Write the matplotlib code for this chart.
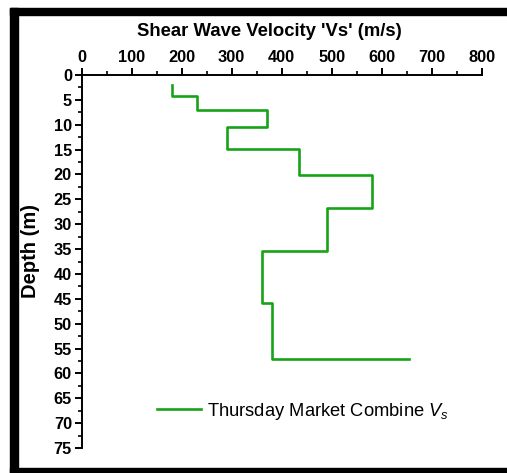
import matplotlib
matplotlib.use("Agg")
import matplotlib.pyplot as plt
from matplotlib.patches import Rectangle
from matplotlib.ticker import MultipleLocator
import numpy as np

plt.rcParams['font.family'] = ['Liberation Sans', 'DejaVu Sans']
plt.rcParams['mathtext.fontset'] = 'custom'
plt.rcParams['mathtext.it'] = 'Liberation Sans:italic'
plt.rcParams['mathtext.rm'] = 'Liberation Sans'

# layer boundaries (m) and shear wave velocity of each step (m/s)
depths = [2.0, 4.2, 7.0, 10.4, 14.8, 20.1, 26.8, 35.3, 45.9, 57.2]
velocities = [180, 230, 370, 290, 435, 580, 490, 360, 380, 655]

x_ticks = [0, 100, 200, 300, 400, 500, 600, 700, 800]
y_ticks = list(range(0, 80, 5))

# build the staircase: vertical run in each layer, then a horizontal jump
vs = np.repeat(velocities, 2)[:-1]
ds = np.concatenate([[depths[0]], np.repeat(depths[1:], 2)])

W, H = 507, 473
fig = plt.figure(figsize=(W / 100, H / 100), dpi=100)
ax = fig.add_axes([81.7 / W, 1 - 448 / H, 400 / W, 373 / H])

ax.plot(vs, ds, color='#17a317', linewidth=1.9,
        label=r'Thursday Market Combine $V_s$')

ax.set_xlim(0, 800)
ax.set_ylim(75, 0)
ax.set_xticks(x_ticks)
ax.set_yticks(y_ticks)
ax.xaxis.set_minor_locator(MultipleLocator(50))
ax.yaxis.set_minor_locator(MultipleLocator(2.5))
ax.xaxis.tick_top()

for side in ['right', 'bottom']:
    ax.spines[side].set_visible(False)
for side in ['left', 'top']:
    ax.spines[side].set_linewidth(1.4)

ax.tick_params(which='major', direction='out', length=5, width=1.4,
               labelsize=11.8, pad=2)
ax.tick_params(which='minor', direction='out', length=3, width=1.2)
for lab in ax.get_xticklabels() + ax.get_yticklabels():
    lab.set_fontweight('bold')

fig.text(269 / W, 1 - 32 / H, "Shear Wave Velocity 'Vs' (m/s)",
         ha='center', va='center', fontsize=13.3, fontweight='bold')
fig.text(30 / W, 1 - 251 / H, 'Depth (m)', rotation=90,
         ha='center', va='center', fontsize=14.5, fontweight='bold')

ax.legend(loc='center left', bbox_to_anchor=(157 / W, 1 - 411 / H),
          bbox_transform=fig.transFigure, frameon=False, fontsize=13.2,
          borderpad=0, borderaxespad=0, handlelength=2.4, handletextpad=0.35)

# black frame around the figure
fig.add_artist(Rectangle((10 / W, 0), 8 / W, 1 - 8 / H,
                         transform=fig.transFigure, color='black'))
fig.add_artist(Rectangle((10 / W, 1 - 15 / H), 1 - 10 / W, 7 / H,
                         transform=fig.transFigure, color='black'))
fig.add_artist(Rectangle((10 / W, 0), 1 - 10 / W, 5 / H,
                         transform=fig.transFigure, color='black'))

fig.savefig('out.png', dpi=100)
